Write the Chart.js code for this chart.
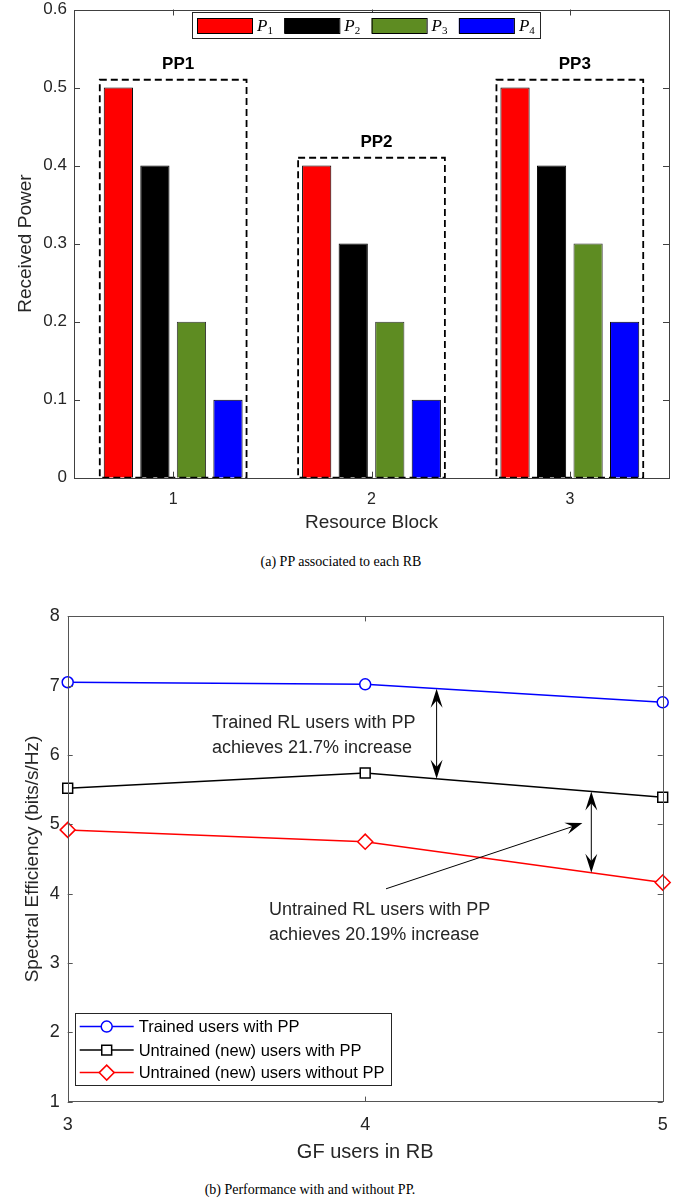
<!DOCTYPE html>
<html>
<head>
<meta charset="utf-8">
<script src="https://cdn.jsdelivr.net/npm/chart.js@4.4.0/dist/chart.umd.min.js"></script>
<style>
  body { margin: 0; background: #fff; width: 688px; height: 1200px; position: relative; overflow: hidden; }
  canvas { position: absolute; left: 0; }
  #powerChart { top: 0; }
  #seChart { top: 590px; }
  .caption {
    position: absolute;
    font-family: 'Liberation Serif', 'Times New Roman', serif;
    font-size: 14px;
    color: #000;
    transform: translateX(-50%);
    white-space: nowrap;
  }
</style>
</head>
<body>
<canvas id="powerChart" width="688" height="545"></canvas>
<div class="caption" style="left:341px; top:554px;">(a) PP associated to each RB</div>
<canvas id="seChart" width="688" height="580"></canvas>
<div class="caption" style="left:310px; top:1182px;">(b) Performance with and without PP.</div>
<script>
// (a) received power in each resource block
const blocks = ['1', '2', '3'];
const powerLabels = ['P1', 'P2', 'P3', 'P4'];
const p1 = [0.5, 0.4, 0.5];
const p2 = [0.4, 0.3, 0.4];
const p3 = [0.2, 0.2, 0.3];
const p4 = [0.1, 0.1, 0.2];
const ppNames = ['PP1', 'PP2', 'PP3'];
const powerTicks = [0, 0.1, 0.2, 0.3, 0.4, 0.5, 0.6];

// (b) spectral efficiency vs GF users
const gfUsers = [3, 4, 5];
const trainedPP = [7.05, 7.02, 6.76];
const untrainedPP = [5.52, 5.74, 5.39];
const untrainedNoPP = [4.92, 4.75, 4.16];
const seriesNames = ['Trained users with PP', 'Untrained (new) users with PP', 'Untrained (new) users without PP'];
const seTicks = [1, 2, 3, 4, 5, 6, 7, 8];
const gfTicks = [3, 4, 5];
const notes = [
    ['Trained RL users with PP', 'achieves 21.7% increase'],
    ['Untrained RL users with PP', 'achieves 20.19% increase']
];

const SANS = "'Liberation Sans', Arial, sans-serif";
const TXT = '#262626';

// box round the axes, with inward ticks like matlab
const framePlugin = {
    id: 'frame',
    afterDraw(chart, args, opts) {
        const { ctx, chartArea: a, scales: { x, y } } = chart;
        const t = opts.tick;
        ctx.save();
        ctx.strokeStyle = opts.color;
        ctx.lineWidth = 1;
        ctx.beginPath();
        x.ticks.forEach((tk, i) => {
            const px = Math.round(x.getPixelForTick(i)) + 0.5;
            ctx.moveTo(px, a.bottom); ctx.lineTo(px, a.bottom - t);
            ctx.moveTo(px, a.top); ctx.lineTo(px, a.top + t);
        });
        y.ticks.forEach((tk, i) => {
            const py = Math.round(y.getPixelForTick(i)) + 0.5;
            ctx.moveTo(a.left, py); ctx.lineTo(a.left + t, py);
            ctx.moveTo(a.right, py); ctx.lineTo(a.right - t, py);
        });
        ctx.stroke();
        ctx.strokeRect(Math.round(a.left) + 0.5, Math.round(a.top) + 0.5,
            Math.round(a.right - a.left), Math.round(a.bottom - a.top));
        ctx.restore();
    }
};

// dashed PP boxes round each group of bars
const ppBoxes = {
    id: 'ppBoxes',
    afterDatasetsDraw(chart) {
        const { ctx, scales: { x, y } } = chart;
        const half = (x.getPixelForTick(1) - x.getPixelForTick(0)) * 0.37;
        ctx.save();
        blocks.forEach((b, i) => {
            const top = Math.max(p1[i], p2[i], p3[i], p4[i]) + 0.01;
            const cx = x.getPixelForTick(i);
            const yt = y.getPixelForValue(top);
            const yb = y.getPixelForValue(0);
            ctx.setLineDash([7, 4]);
            ctx.lineWidth = 1.8;
            ctx.strokeStyle = '#000';
            ctx.strokeRect(cx - half, yt, 2 * half, yb - yt);
            ctx.setLineDash([]);
            ctx.fillStyle = '#000';
            ctx.font = 'bold 17px ' + SANS;
            ctx.textAlign = 'center';
            ctx.textBaseline = 'middle';
            ctx.fillText(ppNames[i], cx + 5, yt - 15);
        });
        ctx.restore();
    }
};

// legend inside the plot, P with subscript
const powerLegend = {
    id: 'powerLegend',
    afterDraw(chart) {
        const ctx = chart.ctx;
        const left = 192, top = 12, w = 348, h = 26;
        ctx.save();
        ctx.fillStyle = '#fff';
        ctx.fillRect(left, top, w, h);
        ctx.strokeStyle = '#262626';
        ctx.lineWidth = 1;
        ctx.strokeRect(left + 0.5, top + 0.5, w, h);
        chart.data.datasets.forEach((ds, i) => {
            const sx = left + 5 + i * 87.3;
            ctx.fillStyle = ds.backgroundColor;
            ctx.fillRect(sx, top + 6, 55, 15);
            ctx.strokeStyle = '#000';
            ctx.strokeRect(sx + 0.5, top + 6.5, 55, 15);
            ctx.fillStyle = '#000';
            ctx.textBaseline = 'alphabetic';
            ctx.textAlign = 'left';
            ctx.font = "italic 17px 'Liberation Serif', serif";
            const main = ds.label.slice(0, 1);
            ctx.fillText(main, sx + 60, top + 19);
            const mw = ctx.measureText(main).width;
            ctx.font = "11px 'Liberation Serif', serif";
            ctx.fillText(ds.label.slice(1), sx + 60 + mw, top + 22);
        });
        ctx.restore();
    }
};

const barColors = ['#ff0000', '#000000', '#5e8c22', '#0000ff'];
const barBorders = ['#000', '#000', '#333', '#000'];
const powerSeries = [p1, p2, p3, p4];

new Chart(document.getElementById('powerChart').getContext('2d'), {
    type: 'bar',
    data: {
        labels: blocks,
        datasets: powerSeries.map((vals, i) => ({
            label: powerLabels[i],
            data: vals,
            backgroundColor: barColors[i],
            borderColor: barBorders[i],
            borderWidth: 1,
            categoryPercentage: 0.737,
            barPercentage: 0.8
        }))
    },
    options: {
        responsive: false,
        animation: false,
        layout: { padding: { left: 0, right: 19, top: 9.5, bottom: 0 } },
        plugins: {
            legend: { display: false },
            tooltip: { enabled: false },
            frame: { color: '#404040', tick: 6 }
        },
        scales: {
            x: {
                grid: { display: false, drawTicks: false },
                border: { display: false },
                ticks: { color: TXT, font: { family: SANS, size: 16 }, padding: 12 },
                title: { display: true, text: 'Resource Block', color: TXT,
                    font: { family: SANS, size: 19 }, padding: { top: 0, bottom: 11 } },
                afterFit(s) { s.height = 67.3; }
            },
            y: {
                min: 0, max: 0.6,
                afterBuildTicks(s) { s.ticks = powerTicks.map(v => ({ value: v })); },
                grid: { display: false, drawTicks: false },
                border: { display: false },
                ticks: { color: TXT, font: { family: SANS, size: 17 }, padding: 7,
                    callback: v => String(v) },
                title: { display: true, text: 'Received Power', color: TXT,
                    font: { family: SANS, size: 19 }, padding: { top: 14, bottom: 0 } },
                afterFit(s) { s.width = 74; s.paddingTop = 0; s.paddingBottom = 0; }
            }
        }
    },
    plugins: [ppBoxes, framePlugin, powerLegend]
});

// value of a series between the gf user points
function interp(vals, xv) {
    for (let i = 0; i < gfUsers.length - 1; i++) {
        if (xv >= gfUsers[i] && xv <= gfUsers[i + 1]) {
            const f = (xv - gfUsers[i]) / (gfUsers[i + 1] - gfUsers[i]);
            return vals[i] + f * (vals[i + 1] - vals[i]);
        }
    }
    return vals[vals.length - 1];
}

function arrowHead(ctx, x0, y0, x1, y1, len, wid) {
    const ang = Math.atan2(y1 - y0, x1 - x0);
    ctx.save();
    ctx.translate(x1, y1);
    ctx.rotate(ang);
    ctx.beginPath();
    ctx.moveTo(0, 0);
    ctx.lineTo(-len, -wid / 2);
    ctx.lineTo(-len * 0.62, 0);
    ctx.lineTo(-len, wid / 2);
    ctx.closePath();
    ctx.fill();
    ctx.restore();
}

const seNotes = {
    id: 'seNotes',
    afterDatasetsDraw(chart) {
        const { ctx, scales: { x, y } } = chart;
        ctx.save();
        ctx.strokeStyle = '#000';
        ctx.fillStyle = '#000';
        ctx.lineWidth = 1;
        // double arrows between the curves
        [[4.24, trainedPP, untrainedPP], [4.76, untrainedPP, untrainedNoPP]].forEach(([xv, hi, lo]) => {
            const px = x.getPixelForValue(xv);
            const y0 = y.getPixelForValue(interp(hi, xv));
            const y1 = y.getPixelForValue(interp(lo, xv));
            ctx.beginPath();
            ctx.moveTo(px, y0 + 8); ctx.lineTo(px, y1 - 8);
            ctx.stroke();
            arrowHead(ctx, px, y1, px, y0, 19, 12);
            arrowHead(ctx, px, y0, px, y1, 19, 12);
        });
        // pointer from the lower note
        const ax0 = x.getPixelForValue(4.07), ay0 = y.getPixelForValue(4.07);
        const ax1 = x.getPixelForValue(4.73), ay1 = y.getPixelForValue(5.02);
        ctx.beginPath();
        ctx.moveTo(ax0, ay0); ctx.lineTo(ax1 - 8, ay1 + 3);
        ctx.stroke();
        arrowHead(ctx, ax0, ay0, ax1, ay1, 17, 12);
        // note texts
        ctx.font = '18px ' + SANS;
        ctx.fillStyle = TXT;
        ctx.textAlign = 'left';
        ctx.textBaseline = 'middle';
        const spots = [[3.485, 6.46], [3.677, 3.765]];
        notes.forEach((lines, k) => {
            const tx = x.getPixelForValue(spots[k][0]);
            const ty = y.getPixelForValue(spots[k][1]);
            lines.forEach((ln, j) => ctx.fillText(ln, tx, ty + j * 25));
        });
        ctx.restore();
    }
};

const seLegend = {
    id: 'seLegend',
    afterDraw(chart) {
        const { ctx, chartArea: a } = chart;
        const left = a.left + 7, w = 316, h = 72, top = a.bottom - 17 - h;
        ctx.save();
        ctx.fillStyle = '#fff';
        ctx.fillRect(left, top, w, h);
        ctx.strokeStyle = '#262626';
        ctx.lineWidth = 1;
        ctx.strokeRect(Math.round(left) + 0.5, Math.round(top) + 0.5, w, h);
        const rows = [14, 37.5, 60];
        chart.data.datasets.forEach((ds, i) => {
            const ry = top + rows[i];
            ctx.strokeStyle = ds.borderColor;
            ctx.lineWidth = 1.5;
            ctx.beginPath();
            ctx.moveTo(left + 5, ry); ctx.lineTo(left + 59, ry);
            ctx.stroke();
            ctx.fillStyle = '#fff';
            Chart.helpers.drawPoint(ctx, { pointStyle: ds.pointStyle, radius: ds.pointRadius,
                borderWidth: 1.5, rotation: 0 }, left + 32, ry);
            ctx.fillStyle = '#000';
            ctx.font = '16.5px ' + SANS;
            ctx.textAlign = 'left';
            ctx.textBaseline = 'middle';
            ctx.fillText(ds.label, left + 64, ry + 1);
        });
        ctx.restore();
    }
};

const seSeries = [trainedPP, untrainedPP, untrainedNoPP];
const seColors = ['#0000ff', '#000000', '#ff0000'];
const seMarkers = ['circle', 'rect', 'rectRot'];
const seMarkerSize = [5.5, 7, 7.5];

new Chart(document.getElementById('seChart').getContext('2d'), {
    type: 'line',
    data: {
        datasets: seSeries.map((vals, i) => ({
            label: seriesNames[i],
            data: gfUsers.map((g, k) => ({ x: g, y: vals[k] })),
            borderColor: seColors[i],
            backgroundColor: '#ffffff',
            borderWidth: 1.5,
            pointStyle: seMarkers[i],
            pointRadius: seMarkerSize[i],
            pointBorderWidth: 1.5,
            pointBackgroundColor: '#ffffff',
            tension: 0,
            clip: false
        }))
    },
    options: {
        responsive: false,
        animation: false,
        layout: { padding: { left: 0, right: 25.3, top: 26.4, bottom: 0 } },
        plugins: {
            legend: { display: false },
            tooltip: { enabled: false },
            frame: { color: '#555', tick: 5 }
        },
        scales: {
            x: {
                type: 'linear', min: 3, max: 5,
                afterBuildTicks(s) { s.ticks = gfTicks.map(v => ({ value: v })); },
                grid: { display: false, drawTicks: false },
                border: { display: false },
                ticks: { color: TXT, font: { family: SANS, size: 18 }, padding: 13 },
                title: { display: true, text: 'GF users in RB', color: TXT,
                    font: { family: SANS, size: 20 }, padding: { top: 0, bottom: 6 } },
                afterFit(s) { s.height = 68.4; }
            },
            y: {
                min: 1, max: 8,
                afterBuildTicks(s) { s.ticks = seTicks.map(v => ({ value: v })); },
                grid: { display: false, drawTicks: false },
                border: { display: false },
                ticks: { color: TXT, font: { family: SANS, size: 18 }, padding: 8 },
                title: { display: true, text: 'Spectral Efficiency (bits/s/Hz)', color: TXT,
                    font: { family: SANS, size: 19 }, padding: { top: 21, bottom: 0 } },
                afterFit(s) { s.width = 67.7; s.paddingTop = 0; s.paddingBottom = 0; }
            }
        }
    },
    plugins: [seNotes, framePlugin, seLegend]
});
</script>
</body>
</html>
